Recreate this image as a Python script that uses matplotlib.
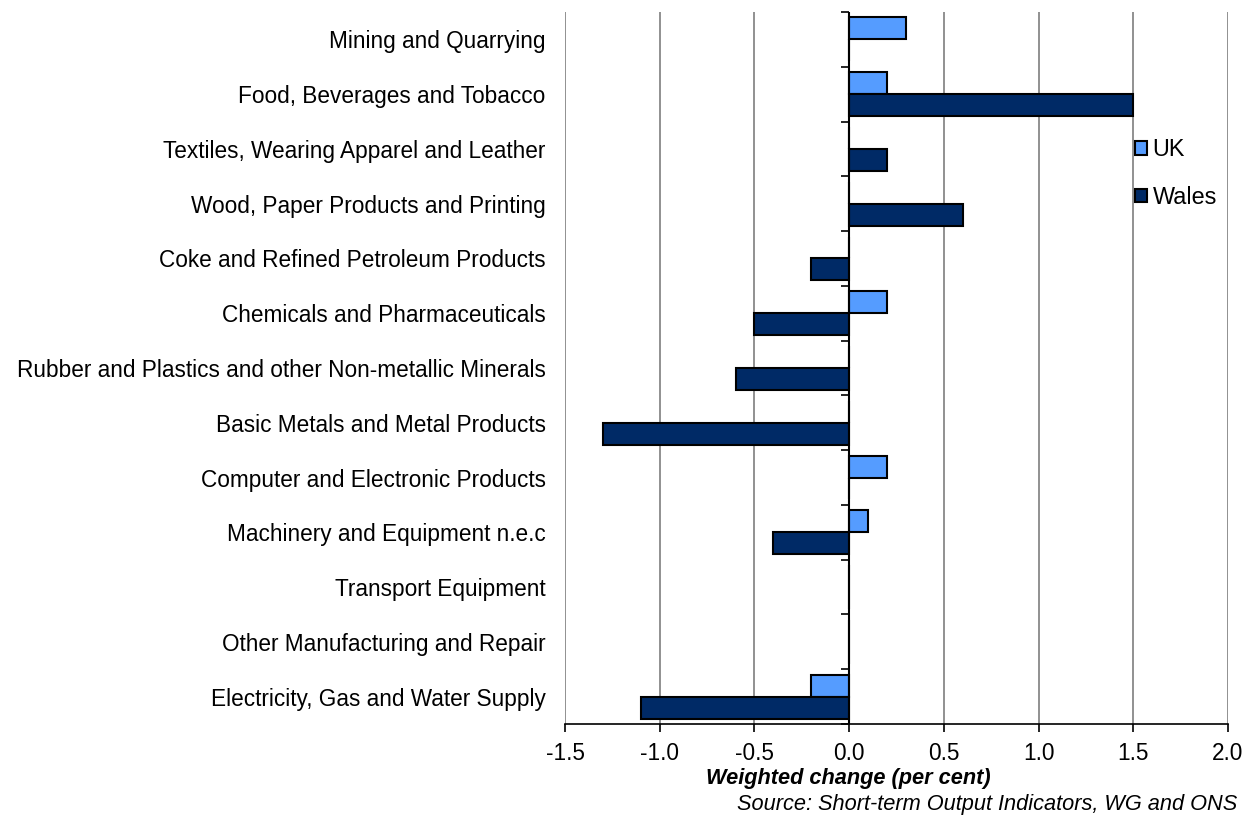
import numpy as np
import matplotlib.pyplot as plt

plt.rcParams['font.family'] = ['Liberation Sans', 'DejaVu Sans']

# sectors, top to bottom
sectors = [
    'Mining and Quarrying',
    'Food, Beverages and Tobacco',
    'Textiles, Wearing Apparel and Leather',
    'Wood, Paper Products and Printing',
    'Coke and Refined Petroleum Products',
    'Chemicals and Pharmaceuticals',
    'Rubber and Plastics and other Non-metallic Minerals',
    'Basic Metals and Metal Products',
    'Computer and Electronic Products',
    'Machinery and Equipment n.e.c',
    'Transport Equipment',
    'Other Manufacturing and Repair',
    'Electricity, Gas and Water Supply',
]
uk = [0.3, 0.2, 0.0, 0.0, 0.0, 0.2, 0.0, 0.0, 0.2, 0.1, 0.0, 0.0, -0.2]
wales = [0.0, 1.5, 0.2, 0.6, -0.2, -0.5, -0.6, -1.3, 0.0, -0.4, 0.0, 0.0, -1.1]

x_ticks = np.arange(-1.5, 2.01, 0.5)

fig = plt.figure(figsize=(12.46, 8.16), dpi=100)
ax = fig.add_axes([0.4535, 0.1127, 0.5321, 0.8726])

y = np.arange(len(sectors))
h = 0.4
ax.barh(y - h / 2, uk, height=h, color='#559CFF', edgecolor='black', lw=1.5, label='UK', zorder=3)
ax.barh(y + h / 2, wales, height=h, color='#002A66', edgecolor='black', lw=1.5, label='Wales', zorder=3)

ax.set_ylim(len(sectors) - 0.5, -0.5)
ax.set_xlim(-1.5, 2.0)
ax.set_yticks(y)
ax.set_yticklabels(sectors, fontsize=16.3)
ax.tick_params(axis='y', length=0, pad=14)
ax.set_xticks(x_ticks)
ax.set_xticklabels(['%.1f' % v for v in x_ticks], fontsize=16.3)
ax.tick_params(axis='x', length=6, width=1.2, direction='out', pad=7)

ax.grid(axis='x', color='#888888', lw=1.3, zorder=0)
ax.set_axisbelow(True)
for s in ['left', 'right', 'top']:
    ax.spines[s].set_visible(False)
ax.spines['bottom'].set_linewidth(1.2)

# category axis through zero with boundary ticks
ax.axvline(0, color='black', lw=1.5, zorder=4)
ax.plot(np.zeros(len(sectors) + 1), np.arange(len(sectors) + 1) - 0.5, marker=0,
        ls='none', color='black', ms=6, mew=1.2, zorder=4, clip_on=False)

ax.set_xlabel('Weighted change (per cent)', fontsize=15.7, fontweight='bold', style='italic')
ax.xaxis.set_label_coords(0.427, -0.062)
fig.text(0.993, 0.001, 'Source: Short-term Output Indicators, WG and ONS', ha='right', va='bottom',
         fontsize=15.7, style='italic')

ax.legend(loc='upper left', bbox_to_anchor=(0.828, 0.852), frameon=False, fontsize=16.8,
          handlelength=0.5, handleheight=0.5, handletextpad=0.25, labelspacing=1.05)

fig.savefig('out.png', dpi=100)
